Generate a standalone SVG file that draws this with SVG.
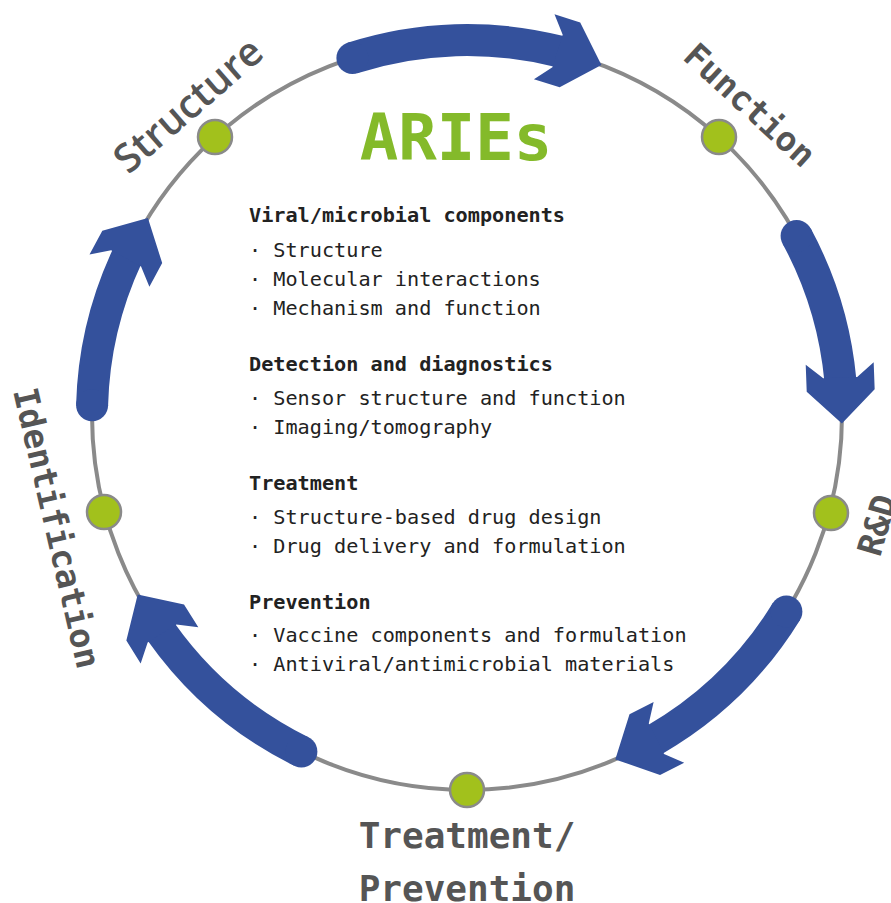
<svg xmlns="http://www.w3.org/2000/svg" width="891" height="903" viewBox="0 0 891 903">
<style>
.ring{fill:none;stroke:#8a8a8a;stroke-width:4}
.shaft{fill:none;stroke:#34519c;stroke-width:32;stroke-linecap:butt}
.cap{fill:#34519c}
.head{fill:#34519c}
.dot{fill:#a2c11c;stroke:#8a8a8a;stroke-width:2.5}
.lbl{font-family:"DejaVu Sans Mono",monospace;font-weight:bold;font-size:34px;fill:#555555;text-anchor:middle}
.lbl2{font-family:"Open Sans",sans-serif;font-weight:600;font-size:40px;fill:#555555;text-anchor:middle}
.big{font-family:"DejaVu Sans Mono",monospace;font-weight:bold;font-size:36px;fill:#555555;text-anchor:middle}
.title{font-family:"DejaVu Sans Mono",monospace;font-weight:bold;font-size:64px;fill:#84ba2a;text-anchor:middle}
.h{font-family:"DejaVu Sans Mono",monospace;font-weight:bold;font-size:20.2px;fill:#222222}
.t{font-family:"DejaVu Sans Mono",monospace;font-size:20.2px;fill:#222222}
</style>
<defs>
<path id="ah" class="head" d="M0,0 L-33,-34 L-60,-34 L-46,-17 L-46,17 L-60,34 L-33,34 Z"/>
</defs>
<circle class="ring" cx="467" cy="415" r="375"/>
<g id="connectors">
<path class="shaft" d="M352.4,58.0 A375,375 0 0 1 559.6,51.6"/>
<circle class="cap" cx="352.4" cy="58.0" r="16"/>
<use href="#ah" transform="translate(601.4,64.9) rotate(17.6)"/>
<path class="shaft" d="M796.6,236.0 A375,375 0 0 1 840.3,379.7"/>
<circle class="cap" cx="796.6" cy="236.0" r="16"/>
<use href="#ah" transform="translate(841.9,423.5) rotate(87.9)"/>
<path class="shaft" d="M786.4,611.5 A375,375 0 0 1 654.5,739.8"/>
<circle class="cap" cx="786.4" cy="611.5" r="16"/>
<use href="#ah" transform="translate(615.3,759.4) rotate(153.3)"/>
<path class="shaft" d="M301.4,751.5 A375,375 0 0 1 161.0,631.7"/>
<circle class="cap" cx="301.4" cy="751.5" r="16"/>
<use href="#ah" transform="translate(137.7,594.5) rotate(238.0)"/>
<path class="shaft" d="M92.1,405.2 A375,375 0 0 1 127.1,256.5"/>
<circle class="cap" cx="92.1" cy="405.2" r="16"/>
<use href="#ah" transform="translate(147.9,217.9) rotate(298.3)"/>
</g>
<g id="node-structure">
<circle class="dot" cx="215" cy="137" r="17"/>
<text class="lbl2" transform="translate(188,105) rotate(-41)" dy="14">Structure</text>
</g>
<g id="node-function">
<circle class="dot" cx="719" cy="137" r="17"/>
<text class="lbl" transform="translate(750,105) rotate(42.5)" dy="12">Function</text>
</g>
<g id="node-rd">
<circle class="dot" cx="831" cy="513" r="17"/>
<text class="lbl" transform="translate(877,525) rotate(-74)" dy="12">R&amp;D</text>
</g>
<g id="node-treatment-prevention">
<circle class="dot" cx="467" cy="790" r="17"/>
<text class="big" x="467" y="848">Treatment/</text>
<text class="big" x="467" y="901">Prevention</text>
</g>
<g id="node-identification">
<circle class="dot" cx="104" cy="512" r="17"/>
<text class="lbl" transform="translate(57,528) rotate(77)" dy="12">Identification</text>
</g>
<g id="node-aries">
<text class="title" x="456" y="160">ARIEs</text>
<text class="h" x="249" y="222">Viral/microbial components</text>
<text class="t" x="249" y="257">· Structure</text>
<text class="t" x="249" y="286">· Molecular interactions</text>
<text class="t" x="249" y="315">· Mechanism and function</text>
<text class="h" x="249" y="371">Detection and diagnostics</text>
<text class="t" x="249" y="405">· Sensor structure and function</text>
<text class="t" x="249" y="434">· Imaging/tomography</text>
<text class="h" x="249" y="490">Treatment</text>
<text class="t" x="249" y="524">· Structure-based drug design</text>
<text class="t" x="249" y="553">· Drug delivery and formulation</text>
<text class="h" x="249" y="609">Prevention</text>
<text class="t" x="249" y="642">· Vaccine components and formulation</text>
<text class="t" x="249" y="671">· Antiviral/antimicrobial materials</text>
</g>
</svg>
